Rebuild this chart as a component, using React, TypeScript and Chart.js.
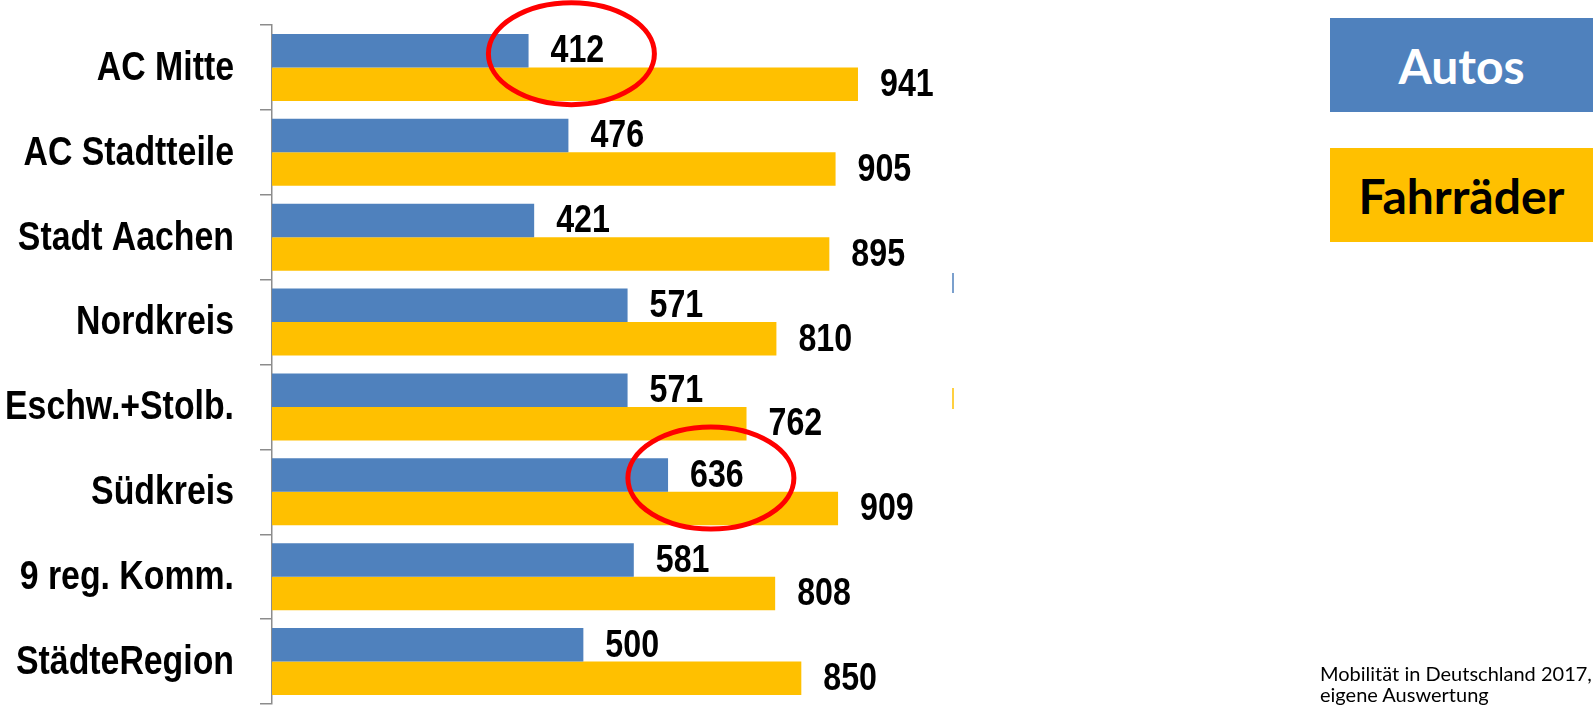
import React, { useEffect, useRef } from "react";
import { Chart, registerables } from "chart.js";

Chart.register(...registerables);

const categories = [
  "AC Mitte",
  "AC Stadtteile",
  "Stadt Aachen",
  "Nordkreis",
  "Eschw.+Stolb.",
  "Südkreis",
  "9 reg. Komm.",
  "StädteRegion",
];
const autos = [412, 476, 421, 571, 571, 636, 581, 500];
const fahrraeder = [941, 905, 895, 810, 762, 909, 808, 850];
const highlightedAutos = ["AC Mitte", "Südkreis"];
const legendNames = ["Autos", "Fahrräder"];
const sourceLines = ["Mobilität in Deutschland 2017,", "eigene Auswertung"];

const BLUE = "#4F81BD";
const YELLOW = "#FFC000";
const SANS = "'Liberation Sans', Arial, sans-serif";
// the reference uses a condensed bold face (Arial Narrow); emulate by horizontal scaling
const CONDENSE = 0.825;

function drawCondensed(ctx: CanvasRenderingContext2D, txt: string, x: number, y: number, align: "left" | "right") {
  ctx.save();
  ctx.translate(x, y);
  ctx.scale(CONDENSE, 1);
  ctx.textAlign = align;
  ctx.fillText(txt, 0, 0);
  ctx.restore();
}

const labelPlugin = {
  id: "condensedLabels",
  afterDatasetsDraw(chart: any) {
    const ctx: CanvasRenderingContext2D = chart.ctx;
    ctx.save();
    ctx.fillStyle = "#000";
    ctx.textBaseline = "middle";

    // category labels on the y axis
    const yScale = chart.scales.y;
    ctx.font = `bold 41px ${SANS}`;
    yScale.ticks.forEach((t: any, i: number) => {
      const lbl = String(chart.data.labels[t.value ?? i]);
      drawCondensed(ctx, lbl, yScale.right - 12 - 26, yScale.getPixelForTick(i) + 1, "right");
    });

    // value labels + highlight ellipses
    ctx.font = `bold 39px ${SANS}`;
    chart.data.datasets.forEach((ds: any, di: number) => {
      const meta = chart.getDatasetMeta(di);
      meta.data.forEach((bar: any, i: number) => {
        const txt = String(ds.data[i]);
        const x = bar.x + 22;
        drawCondensed(ctx, txt, x, bar.y + 1, "left");
        if (di === 0 && highlightedAutos.includes(categories[i])) {
          const w = ctx.measureText(txt).width * CONDENSE;
          ctx.save();
          ctx.strokeStyle = "#FF0000";
          ctx.lineWidth = 5;
          ctx.beginPath();
          ctx.ellipse(x + w / 2 - 6, bar.y + 3, 83, 51, 0, 0, Math.PI * 2);
          ctx.stroke();
          ctx.restore();
        }
      });
    });

    // small stray legend marks at the plot's right edge
    const r = chart.chartArea.right - 4;
    ctx.lineWidth = 1.5;
    ctx.strokeStyle = BLUE;
    ctx.beginPath();
    ctx.moveTo(r, 273);
    ctx.lineTo(r, 293);
    ctx.stroke();
    ctx.strokeStyle = YELLOW;
    ctx.beginPath();
    ctx.moveTo(r, 388);
    ctx.lineTo(r, 409);
    ctx.stroke();
    ctx.restore();
  },
};

export default function App() {
  const ref = useRef<HTMLCanvasElement>(null);
  useEffect(() => {
    if (!ref.current) return;
    const chart = new Chart(ref.current, {
      type: "bar",
      data: {
        labels: categories,
        datasets: [
          { label: legendNames[0], data: autos, backgroundColor: BLUE, categoryPercentage: 0.79, barPercentage: 1 },
          { label: legendNames[1], data: fahrraeder, backgroundColor: YELLOW, categoryPercentage: 0.79, barPercentage: 1 },
        ],
      },
      options: {
        indexAxis: "y",
        animation: false,
        responsive: false,
        maintainAspectRatio: false,
        layout: { padding: { top: 25, bottom: 1, left: 0, right: 636 } },
        plugins: { legend: { display: false }, tooltip: { enabled: false } },
        scales: {
          x: { min: 0, max: 1100, display: false },
          y: {
            afterFit: (scale: any) => {
              scale.width = 272;
              scale.paddingTop = 0;
              scale.paddingBottom = 0;
            },
            grid: {
              offset: true,
              drawOnChartArea: false,
              drawTicks: true,
              tickLength: 12,
              color: "#8c8c8c",
              lineWidth: 1.5,
            },
            border: { display: true, color: "#8c8c8c", width: 1.5 },
            ticks: { display: false },
          },
        },
      },
      plugins: [labelPlugin],
    });
    return () => chart.destroy();
  }, []);

  const boxBase: React.CSSProperties = {
    position: "absolute",
    left: 1330,
    width: 263,
    height: 94,
    display: "flex",
    alignItems: "center",
    justifyContent: "center",
    fontFamily: "Lato, 'Open Sans', sans-serif",
    fontWeight: "bold",
    fontSize: 48,
  };

  return (
    <div style={{ position: "fixed", left: 0, top: 0, width: 1593, height: 705, background: "#fff", overflow: "hidden" }}>
      <canvas ref={ref} width={1593} height={705} style={{ position: "absolute", left: 0, top: 0 }} />
      <div style={{ ...boxBase, top: 18, background: BLUE, color: "#fff" }}>{legendNames[0]}</div>
      <div style={{ ...boxBase, top: 148, background: YELLOW, color: "#000" }}>{legendNames[1]}</div>
      <div
        style={{
          position: "absolute",
          left: 1320,
          top: 663,
          fontFamily: "Lato, 'Open Sans', sans-serif",
          fontSize: 20,
          lineHeight: "21px",
          color: "#000",
          whiteSpace: "nowrap",
        }}
      >
        {sourceLines.map((l) => (
          <div key={l}>{l}</div>
        ))}
      </div>
    </div>
  );
}
